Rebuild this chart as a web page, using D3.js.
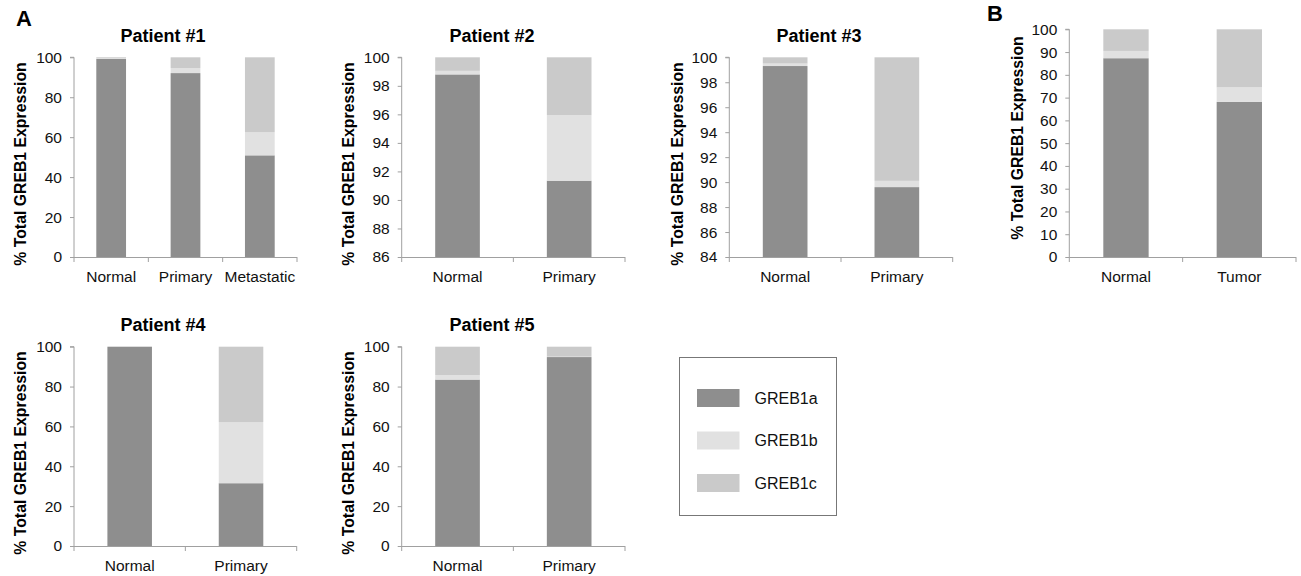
<!DOCTYPE html>
<html>
<head>
<meta charset="utf-8">
<script src="https://cdn.jsdelivr.net/npm/d3@7"></script>
<style>
  body { margin: 0; background: #fff; }
  svg, svg text { font-family: "Liberation Sans", Arial, sans-serif; }
  .tick text { fill: #111; font-size: 15.5px; }
</style>
</head>
<body>
<svg id="chart" width="1301" height="576"></svg>
<script>
const isoforms = ["GREB1a", "GREB1b", "GREB1c"]
const colors = ["#8e8e8e", "#e1e1e1", "#cacaca"]

// % of total GREB1 expression per sample, [GREB1a, GREB1b, GREB1c]
const p1Cats = ["Normal", "Primary", "Metastatic"]
const p1Values = [[99.2, 0.3, 0.5], [92.1, 2.5, 5.4], [50.9, 11.6, 37.5]]
const p2Cats = ["Normal", "Primary"]
const p2Values = [[98.8, 0.25, 0.95], [91.35, 4.6, 4.05]]
const p3Cats = ["Normal", "Primary"]
const p3Values = [[99.3, 0.2, 0.5], [89.6, 0.5, 9.9]]
const p4Cats = ["Normal", "Primary"]
const p4Values = [[100, 0, 0], [31.5, 30.7, 37.8]]
const p5Cats = ["Normal", "Primary"]
const p5Values = [[83.5, 2.2, 14.3], [94.8, 0.2, 5.0]]
const bCats = ["Normal", "Tumor"]
const bValues = [[87.3, 3.2, 9.5], [68.1, 6.4, 25.5]]

const svg = d3.select("#chart")

function drawPanel(opt) {
  const { x0, x1, y0, y1, cats, values, domain, step, title, titleX, titleY, labelX, labelY } = opt
  const g = svg.append("g")

  const x = d3.scaleBand().domain(cats).range([x0, x1]).paddingInner(0.6).paddingOuter(0.3)
  const y = d3.scaleLinear().domain(domain).range([y1, y0])

  // stacked bars, clipped to the axis floor
  const rows = values.map((v, i) => {
    let acc = 0
    return v.map((val, k) => {
      const seg = { cat: cats[i], k, lo: acc, hi: acc + val }
      acc += val
      return seg
    })
  }).flat()

  g.selectAll("rect.seg")
    .data(rows.filter((d) => d.hi > domain[0] && d.hi - d.lo > 0))
    .join("rect")
    .attr("class", "seg")
    .attr("x", (d) => x(d.cat))
    .attr("width", x.bandwidth())
    .attr("y", (d) => y(Math.min(d.hi, domain[1])))
    .attr("height", (d) => y(Math.max(d.lo, domain[0])) - y(Math.min(d.hi, domain[1])))
    .attr("fill", (d) => colors[d.k])

  // y axis
  const yAxis = d3.axisLeft(y)
    .tickValues(d3.range(domain[0], domain[1] + 0.001, step))
    .tickSize(4)
    .tickPadding(8)
  const ya = g.append("g").attr("transform", `translate(${x0},0)`).call(yAxis)
  ya.attr("font-family", null).attr("font-size", null)
  ya.select(".domain").attr("stroke", "#a0a0a0").attr("d", `M-4,${y0}H0V${y1}`)
  ya.selectAll(".tick line").attr("stroke", "#a0a0a0")

  // x axis: line with ticks at category boundaries
  const stepW = x.step()
  g.append("line")
    .attr("x1", x0).attr("x2", x1).attr("y1", y1 + 0.5).attr("y2", y1 + 0.5)
    .attr("stroke", "#a0a0a0")
  g.selectAll("line.xt")
    .data(d3.range(cats.length + 1))
    .join("line")
    .attr("class", "xt")
    .attr("x1", (i) => x0 + i * stepW).attr("x2", (i) => x0 + i * stepW)
    .attr("y1", y1).attr("y2", y1 + 5)
    .attr("stroke", "#a0a0a0")
  g.selectAll("text.xl")
    .data(cats)
    .join("text")
    .attr("class", "xl")
    .attr("x", (d) => x(d) + x.bandwidth() / 2)
    .attr("y", y1 + 25)
    .attr("text-anchor", "middle")
    .attr("font-size", 15.5)
    .attr("fill", "#111")
    .text((d) => d)

  if (title) {
    g.append("text")
      .attr("x", titleX).attr("y", titleY)
      .attr("text-anchor", "middle")
      .attr("font-size", 18).attr("font-weight", "bold")
      .text(title)
  }

  g.append("text")
    .attr("transform", `translate(${labelX},${labelY}) rotate(-90)`)
    .attr("text-anchor", "middle")
    .attr("dominant-baseline", "central")
    .attr("font-size", 15.8).attr("font-weight", "bold")
    .text("% Total GREB1 Expression")
}

drawPanel({ x0: 74, x1: 297, y0: 57.3, y1: 257, cats: p1Cats, values: p1Values, domain: [0, 100], step: 20,
  title: "Patient #1", titleX: 163, titleY: 42, labelX: 20, labelY: 164 })
drawPanel({ x0: 401.7, x1: 625, y0: 57.3, y1: 257, cats: p2Cats, values: p2Values, domain: [86, 100], step: 2,
  title: "Patient #2", titleX: 492, titleY: 42, labelX: 348, labelY: 164 })
drawPanel({ x0: 729.3, x1: 952.7, y0: 57.3, y1: 257, cats: p3Cats, values: p3Values, domain: [84, 100], step: 2,
  title: "Patient #3", titleX: 819, titleY: 42, labelX: 677, labelY: 164 })
drawPanel({ x0: 1069.3, x1: 1296, y0: 29.3, y1: 257, cats: bCats, values: bValues, domain: [0, 100], step: 10,
  title: null, labelX: 1017, labelY: 138 })
drawPanel({ x0: 74, x1: 296.7, y0: 346.7, y1: 546, cats: p4Cats, values: p4Values, domain: [0, 100], step: 20,
  title: "Patient #4", titleX: 163, titleY: 331, labelX: 20, labelY: 453 })
drawPanel({ x0: 401.7, x1: 625, y0: 346.7, y1: 546, cats: p5Cats, values: p5Values, domain: [0, 100], step: 20,
  title: "Patient #5", titleX: 492, titleY: 331, labelX: 348, labelY: 453 })

// panel letters
svg.append("text").attr("x", 16).attr("y", 26).attr("font-size", 22).attr("font-weight", "bold").text("A")
svg.append("text").attr("x", 987).attr("y", 21).attr("font-size", 22).attr("font-weight", "bold").text("B")

// legend
const legend = svg.append("g")
legend.append("rect")
  .attr("x", 679.5).attr("y", 357.5).attr("width", 157).attr("height", 158)
  .attr("fill", "none").attr("stroke", "#777")
const items = legend.selectAll("g.item")
  .data(isoforms)
  .join("g")
  .attr("class", "item")
  .attr("transform", (d, i) => `translate(697,${389 + i * 42.5})`)
items.append("rect").attr("width", 42.5).attr("height", 18).attr("fill", (d, i) => colors[i])
items.append("text").attr("x", 57.5).attr("y", 9).attr("dominant-baseline", "central")
  .attr("font-size", 16).attr("fill", "#111").text((d) => d)
</script>
</body>
</html>
